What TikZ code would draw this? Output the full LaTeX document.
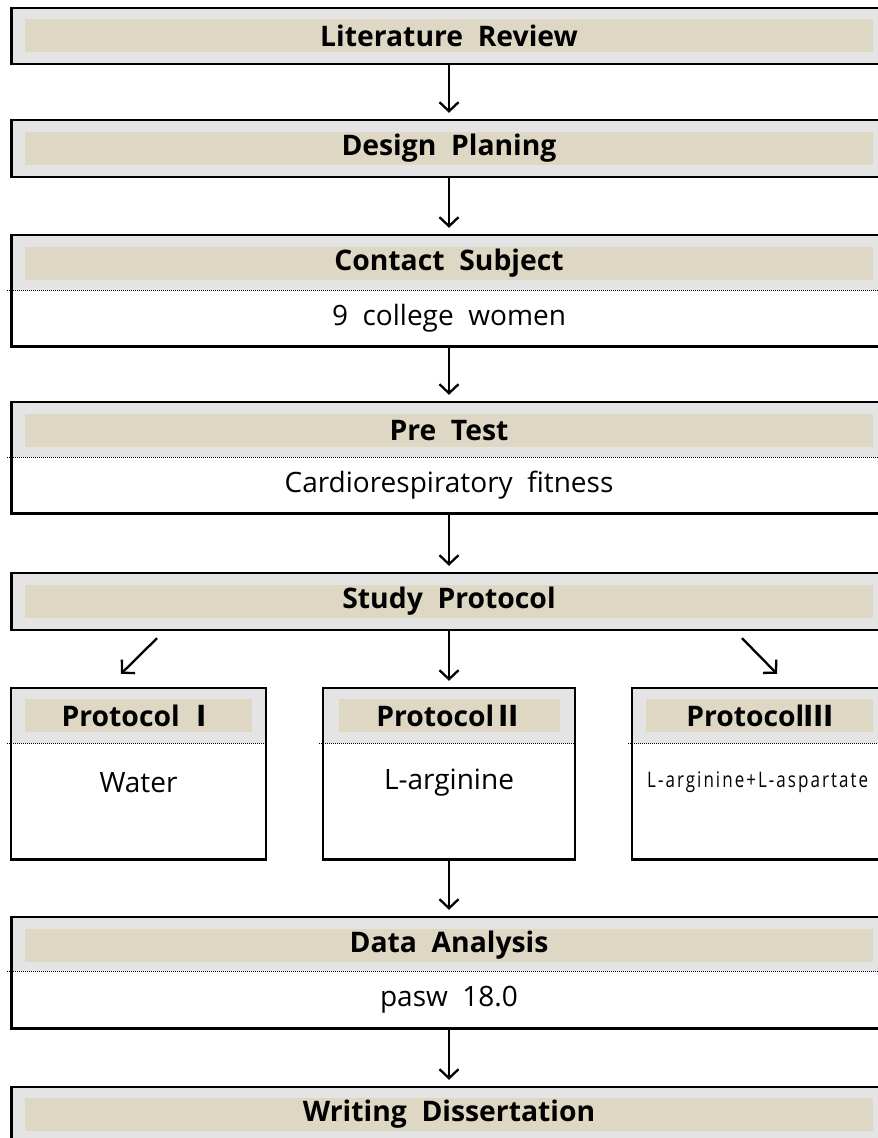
\documentclass[tikz,border=0pt]{standalone}
\usepackage{fontspec}
\setmainfont{Open Sans}
\newfontfamily\krfont{Noto Sans CJK KR}
\usetikzlibrary{arrows.meta,positioning,calc}
\definecolor{hdgray}{HTML}{E4E4E4}
\definecolor{hdtan}{HTML}{DDD7C4}

\begin{document}
\begin{tikzpicture}[x=1pt,y=-1pt,
    frame/.style={draw,line width=2.4pt},
    hd/.style={fill=hdgray,minimum height=55pt,inner sep=0pt},
    bar/.style={fill=hdtan,minimum height=33pt,inner sep=0pt,font=\bfseries\fontsize{28.3}{28.3}\selectfont},
    bd/.style={minimum height=56pt,inner sep=0pt},
    txt/.style={inner sep=0pt,font=\fontsize{28}{28}\selectfont},
    arr/.style={-{Straight Barb[length=9pt,width=19pt]},line width=2.3pt,shorten >=7pt},
    sep/.style={line width=.8pt,dash pattern=on 1pt off 1pt}]
    \useasboundingbox (0,0) rectangle (878,1138);
    \node[hd,minimum width=875pt,minimum height=56pt] (lit) at (449,36) {};
    \node[bar,minimum width=848pt] (litb) at (449,35.5) {Literature\ \ Review};
    \draw[frame] (lit.north west) rectangle (lit.south east);
    \node[hd,minimum width=875pt,minimum height=57pt] (dsg) at (449,148.5) {};
    \node[bar,minimum width=848pt] (dsgb) at (449,148.5) {Design\ \ Planing};
    \draw[frame] (dsg.north west) rectangle (dsg.south east);
    \node[hd,minimum width=875pt] (cnt) at (449,262.5) {};
    \node[bar,minimum width=848pt] (cntb) at (449,263.5) {Contact\ \ Subject};
    \node[bd,minimum width=875pt,below=0pt of cnt] (cntd) {};
    \node[txt] (cntt) at (cntd) {9\ \ college\ \ women};
    \draw[sep] ([xshift=-4pt]cnt.south west) -- (cnt.south east);
    \draw[frame] (cnt.north west) rectangle (cntd.south east);
    \node[hd,minimum width=875pt] (pre) at (449,429.5) {};
    \node[bar,minimum width=848pt] (preb) at (449,430.5) {Pre\ \ Test};
    \node[bd,minimum width=875pt,below=0pt of pre] (pred) {};
    \node[txt] (pret) at (pred) {Cardiorespiratory\ \ fitness};
    \draw[sep] ([xshift=-4pt]pre.south west) -- (pre.south east);
    \draw[frame] (pre.north west) rectangle (pred.south east);
    \node[hd,minimum width=875pt,minimum height=57pt] (stu) at (449,601.5) {};
    \node[bar,minimum width=848pt] (stub) at (449,601.5) {Study\ \ Protocol};
    \draw[frame] (stu.north west) rectangle (stu.south east);
    \node[hd,minimum width=255pt] (pr1) at (138.5,715.5) {};
    \node[bar,minimum width=227pt] (pr1b) at (pr1) {Protocol {\krfont\bfseries Ⅰ}};
    \node[bd,minimum width=255pt,minimum height=116pt,below=0pt of pr1] (pr1d) {};
    \node[txt] (pr1t) at ([yshift=-39pt]pr1d.north) {Water};
    \draw[sep] ([xshift=-4pt]pr1.south west) -- (pr1.south east);
    \draw[frame] (pr1.north west) rectangle (pr1d.south east);
    \node[hd,minimum width=252pt] (pr2) at (449,715.5) {};
    \node[bar,minimum width=221pt] (pr2b) at (449.5,715.5) {Protocol{\krfont\bfseries Ⅱ}};
    \node[bd,minimum width=252pt,minimum height=116pt,below=0pt of pr2] (pr2d) {};
    \node[txt] (pr2t) at ([yshift=-39pt]pr2d.north) {L-arginine};
    \draw[sep] ([xshift=-4pt]pr2.south west) -- (pr2.south east);
    \draw[frame] (pr2.north west) rectangle (pr2d.south east);
    \node[hd,minimum width=255pt] (pr3) at (759.5,715.5) {};
    \node[bar,minimum width=227pt] (pr3b) at (pr3) {Protocol{\krfont\bfseries Ⅲ}};
    \node[bd,minimum width=255pt,minimum height=116pt,below=0pt of pr3] (pr3d) {};
    \node[txt,anchor=west,font=\fontsize{21.5}{21.5}\selectfont] (pr3t) at (647,782) {\scalebox{.79}[1]{\addfontfeatures{LetterSpace=12}L-arginine+L-aspartate}};
    \draw[sep] ([xshift=-4pt]pr3.south west) -- (pr3.south east);
    \draw[frame] (pr3.north west) rectangle (pr3d.south east);
    \node[hd,minimum width=875pt,minimum height=54pt] (dat) at (449,944) {};
    \node[bar,minimum width=848pt] (datb) at (449,945) {Data\ \ Analysis};
    \node[bd,minimum width=875pt,minimum height=57pt,below=0pt of dat] (datd) {};
    \node[txt] (datt) at (datd) {pasw\ \ 18.0};
    \draw[sep] ([xshift=-4pt]dat.south west) -- (dat.south east);
    \draw[frame] (dat.north west) rectangle (datd.south east);
    \node[hd,minimum width=875pt,minimum height=56pt] (wri) at (449,1115) {};
    \node[bar,minimum width=848pt] (wrib) at (449,1114.5) {Writing\ \ Dissertation};
    \draw[frame] (wri.north west) rectangle (wri.south east);
    \draw[arr] (lit.south) -- (dsg.north);
    \draw[arr] (dsg.south) -- (cnt.north);
    \draw[arr] (cntd.south) -- (pre.north);
    \draw[arr] (pred.south) -- (stu.north);
    \draw[arr] (stu.south) -- (pr2.north);
    \draw[arr,shorten >=0pt] ([xshift=18.5pt,yshift=-8pt]pr1.north |- stu.south) -- ([xshift=-17.5pt,yshift=14pt]pr1.north);
    \draw[arr,shorten >=0pt] ([xshift=-17.5pt,yshift=-8pt]pr3.north |- stu.south) -- ([xshift=17.5pt,yshift=14pt]pr3.north);
    \draw[arr] (pr2d.south) -- (dat.north);
    \draw[arr] (datd.south) -- (wri.north);
\end{tikzpicture}
\end{document}
